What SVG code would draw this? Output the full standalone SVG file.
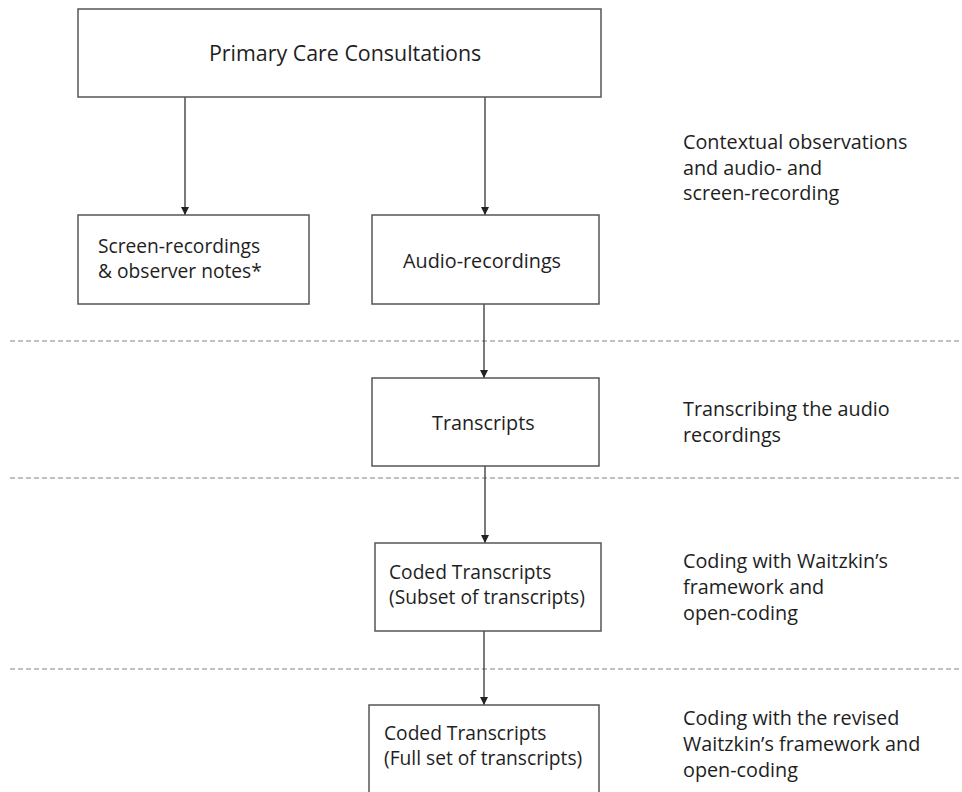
<svg xmlns="http://www.w3.org/2000/svg" width="962" height="792" viewBox="0 0 962 792">
<style>
.box{fill:#fff;stroke:#555;stroke-width:1.5}
.t{font-family:"Open Sans","Noto Sans","Liberation Sans",sans-serif;font-size:19.8px;fill:#1e1e1e}
.bt{font-size:19.2px}
.title{font-size:21.4px}
.conn{stroke:#333;stroke-width:1.3;fill:none}
.dash{stroke:#808080;stroke-width:1.2;stroke-dasharray:5 3;fill:none}
</style>
<defs>
<marker id="ah" markerUnits="userSpaceOnUse" markerWidth="9" markerHeight="9" refX="8" refY="4" orient="auto">
<path d="M0,0 L8,4 L0,8 z" fill="#222"/>
</marker>
</defs>
<rect width="962" height="792" fill="#fff"/>
<g id="separators">
<line class="dash" x1="10" y1="341" x2="962" y2="341"/>
<line class="dash" x1="10" y1="478" x2="962" y2="478"/>
<line class="dash" x1="10" y1="669" x2="962" y2="669"/>
</g>
<g id="connectors">
<line class="conn" x1="185" y1="97" x2="185" y2="215" marker-end="url(#ah)"/>
<line class="conn" x1="485" y1="97" x2="485" y2="215" marker-end="url(#ah)"/>
<line class="conn" x1="484" y1="304" x2="484" y2="378" marker-end="url(#ah)"/>
<line class="conn" x1="485" y1="466" x2="485" y2="543" marker-end="url(#ah)"/>
<line class="conn" x1="484" y1="631" x2="484" y2="705" marker-end="url(#ah)"/>
</g>
<g id="primary">
<rect class="box" x="78" y="9" width="523" height="88"/>
<text class="t title" x="209" y="61">Primary Care Consultations</text>
</g>
<g id="screen">
<rect class="box" x="78" y="215" width="231" height="89"/>
<text class="t bt" x="98" y="253"><tspan x="98">Screen-recordings</tspan><tspan x="98" dy="24.5">&amp; observer notes*</tspan></text>
</g>
<g id="audio">
<rect class="box" x="372" y="215" width="227" height="89"/>
<text class="t" x="403" y="268">Audio-recordings</text>
</g>
<g id="transcripts">
<rect class="box" x="372" y="378" width="227" height="88"/>
<text class="t" x="432" y="430">Transcripts</text>
</g>
<g id="coded1">
<rect class="box" x="375" y="543" width="226" height="88"/>
<text class="t bt" x="389" y="579"><tspan x="389">Coded Transcripts</tspan><tspan x="389" dy="24.5">(Subset of transcripts)</tspan></text>
</g>
<g id="coded2">
<rect class="box" x="369" y="705" width="230" height="95"/>
<text class="t bt" x="384" y="740"><tspan x="384">Coded Transcripts</tspan><tspan x="384" dy="24.5">(Full set of transcripts)</tspan></text>
</g>
<g id="labels">
<text class="t" x="683" y="149"><tspan x="683">Contextual observations</tspan><tspan x="683" dy="25.5">and audio- and</tspan><tspan x="683" dy="25.5">screen-recording</tspan></text>
<text class="t" x="683" y="416"><tspan x="683">Transcribing the audio</tspan><tspan x="683" dy="25.5">recordings</tspan></text>
<text class="t" x="683" y="568"><tspan x="683">Coding with Waitzkin’s</tspan><tspan x="683" dy="26">framework and</tspan><tspan x="683" dy="26">open-coding</tspan></text>
<text class="t" x="683" y="725"><tspan x="683">Coding with the revised</tspan><tspan x="683" dy="26">Waitzkin’s framework and</tspan><tspan x="683" dy="26">open-coding</tspan></text>
</g>
</svg>
